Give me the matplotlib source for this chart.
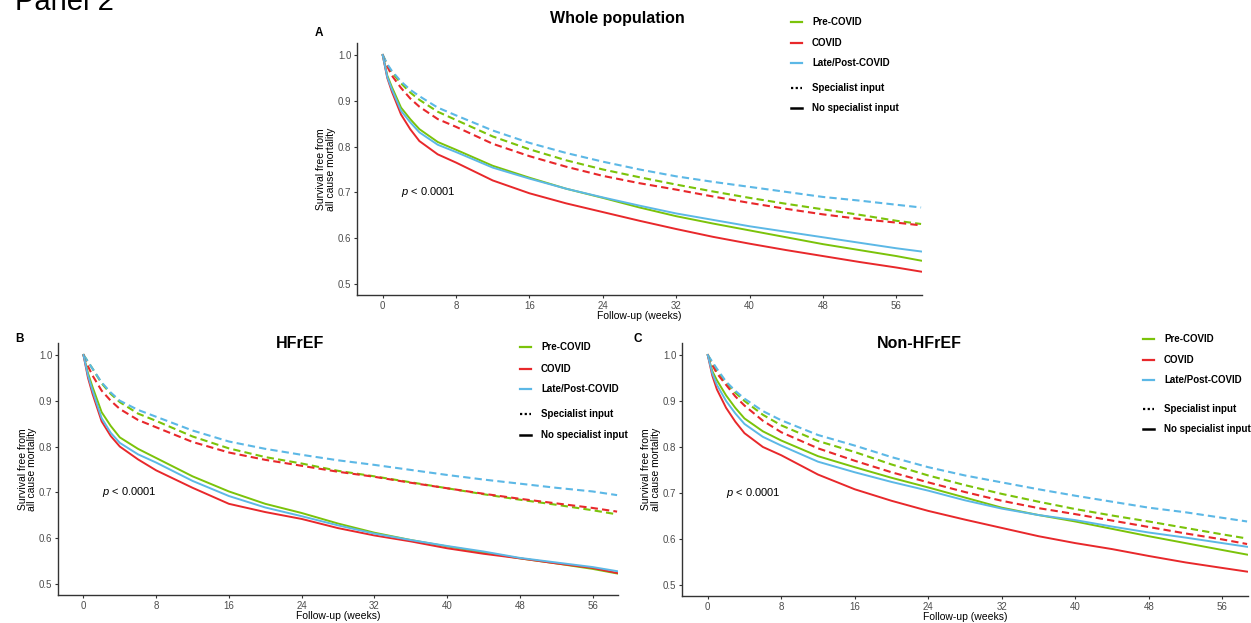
import matplotlib
matplotlib.use('Agg')
import matplotlib.pyplot as plt
from matplotlib.lines import Line2D

plt.rcParams['font.family'] = ['Liberation Sans', 'DejaVu Sans']
plt.rcParams['mathtext.fontset'] = 'custom'
plt.rcParams['mathtext.it'] = 'Liberation Sans:italic'
plt.rcParams['mathtext.rm'] = 'Liberation Sans'

W, H = 1251, 623

# follow-up time points (weeks)
weeks = [0, 0.5, 1, 2, 3, 4, 6, 8, 12, 16, 20, 24, 28, 32, 36, 40, 44, 48, 52, 56, 58.7]

periods = ['Pre-COVID', 'COVID', 'Late/Post-COVID']
colors = ['#7bc30a', '#e8282b', '#5cb8e6']

# panel A: whole population
a_nospec_pre = [1.0, 0.955, 0.93, 0.885, 0.86, 0.838, 0.81, 0.793, 0.758, 0.732, 0.708, 0.688, 0.667, 0.648, 0.632, 0.617, 0.602, 0.587, 0.574, 0.561, 0.551]
a_nospec_covid = [1.0, 0.95, 0.92, 0.87, 0.838, 0.812, 0.783, 0.765, 0.726, 0.698, 0.676, 0.657, 0.638, 0.62, 0.603, 0.588, 0.574, 0.561, 0.548, 0.536, 0.527]
a_nospec_post = [1.0, 0.952, 0.925, 0.878, 0.853, 0.831, 0.804, 0.788, 0.754, 0.73, 0.708, 0.689, 0.671, 0.654, 0.64, 0.626, 0.614, 0.602, 0.59, 0.578, 0.571]
a_spec_pre = [1.0, 0.978, 0.962, 0.938, 0.918, 0.902, 0.876, 0.858, 0.822, 0.794, 0.77, 0.75, 0.733, 0.717, 0.702, 0.688, 0.675, 0.663, 0.651, 0.638, 0.631]
a_spec_covid = [1.0, 0.975, 0.955, 0.928, 0.905, 0.887, 0.86, 0.843, 0.806, 0.779, 0.756, 0.736, 0.72, 0.706, 0.691, 0.677, 0.664, 0.652, 0.642, 0.634, 0.628]
a_spec_post = [1.0, 0.98, 0.965, 0.942, 0.924, 0.91, 0.885, 0.868, 0.835, 0.808, 0.786, 0.767, 0.75, 0.735, 0.723, 0.712, 0.701, 0.69, 0.682, 0.673, 0.667]

# panel B: HFrEF
b_nospec_pre = [1.0, 0.96, 0.93, 0.875, 0.845, 0.82, 0.795, 0.775, 0.735, 0.702, 0.675, 0.655, 0.632, 0.612, 0.596, 0.582, 0.569, 0.556, 0.545, 0.533, 0.523]
b_nospec_covid = [1.0, 0.95, 0.915, 0.855, 0.823, 0.8, 0.772, 0.748, 0.71, 0.675, 0.657, 0.642, 0.622, 0.606, 0.593, 0.578, 0.566, 0.556, 0.545, 0.535, 0.524]
b_nospec_post = [1.0, 0.955, 0.922, 0.862, 0.83, 0.808, 0.783, 0.765, 0.725, 0.692, 0.667, 0.648, 0.628, 0.61, 0.596, 0.583, 0.571, 0.557, 0.547, 0.537, 0.528]
b_spec_pre = [1.0, 0.985, 0.97, 0.938, 0.915, 0.897, 0.872, 0.856, 0.822, 0.796, 0.777, 0.763, 0.747, 0.735, 0.722, 0.709, 0.696, 0.684, 0.673, 0.661, 0.652]
b_spec_covid = [1.0, 0.975, 0.955, 0.922, 0.9, 0.882, 0.858, 0.842, 0.81, 0.787, 0.771, 0.758, 0.745, 0.734, 0.721, 0.709, 0.697, 0.686, 0.676, 0.666, 0.658]
b_spec_post = [1.0, 0.985, 0.97, 0.94, 0.918, 0.9, 0.88, 0.865, 0.835, 0.811, 0.795, 0.782, 0.77, 0.76, 0.749, 0.738, 0.728, 0.719, 0.71, 0.702, 0.694]

# panel C: Non-HFrEF
c_nospec_pre = [1.0, 0.965, 0.945, 0.912, 0.885, 0.862, 0.834, 0.814, 0.78, 0.756, 0.733, 0.712, 0.69, 0.668, 0.652, 0.638, 0.622, 0.606, 0.591, 0.576, 0.566]
c_nospec_covid = [1.0, 0.955, 0.925, 0.885, 0.855, 0.83, 0.8, 0.782, 0.74, 0.708, 0.683, 0.661, 0.642, 0.624, 0.606, 0.591, 0.578, 0.563, 0.549, 0.537, 0.529]
c_nospec_post = [1.0, 0.96, 0.935, 0.9, 0.873, 0.85, 0.822, 0.803, 0.768, 0.745, 0.724, 0.705, 0.684, 0.666, 0.652, 0.641, 0.627, 0.614, 0.603, 0.591, 0.583]
c_spec_pre = [1.0, 0.982, 0.965, 0.94, 0.918, 0.9, 0.87, 0.847, 0.813, 0.789, 0.762, 0.738, 0.717, 0.698, 0.681, 0.665, 0.651, 0.638, 0.624, 0.61, 0.601]
c_spec_covid = [1.0, 0.978, 0.96, 0.935, 0.91, 0.89, 0.857, 0.832, 0.797, 0.77, 0.745, 0.723, 0.702, 0.683, 0.667, 0.654, 0.64, 0.626, 0.612, 0.599, 0.589]
c_spec_post = [1.0, 0.985, 0.97, 0.942, 0.922, 0.905, 0.878, 0.858, 0.826, 0.803, 0.778, 0.756, 0.738, 0.723, 0.708, 0.694, 0.681, 0.668, 0.658, 0.646, 0.638]

xticks = [0, 8, 16, 24, 32, 40, 48, 56]
yticks = [0.5, 0.6, 0.7, 0.8, 0.9, 1.0]


def fig_box(left, top, right, bottom):
    return [left / W, 1 - bottom / H, (right - left) / W, (bottom - top) / H]


def fx(x):
    return x / W


def fy(y):
    return 1 - y / H


def km_panel(ax, nospec, spec):
    for i in range(3):
        ax.plot(weeks, spec[i], color=colors[i], lw=1.5, ls=(0, (3.5, 2)))
    for i in range(3):
        ax.plot(weeks, nospec[i], color=colors[i], lw=1.4)
    ax.set_xlim(-2.8, 58.8)
    ax.set_ylim(0.476, 1.026)
    ax.set_xticks(xticks)
    ax.set_yticks(yticks)
    ax.set_yticklabels(['%.1f' % v for v in yticks])
    for s in ['top', 'right']:
        ax.spines[s].set_visible(False)
    for s in ['left', 'bottom']:
        ax.spines[s].set_color('#333333')
        ax.spines[s].set_linewidth(1.0)
    ax.tick_params(length=2.5, width=0.8, color='#333333', labelsize=7, labelcolor='#4d4d4d', pad=1.5)
    ax.set_xlabel('Follow-up (weeks)', fontsize=7.5, labelpad=0)
    ax.set_ylabel('Survival free from\nall cause mortality', fontsize=7.5, linespacing=0.95)
    ax.yaxis.set_label_coords(-0.037, 0.5)
    ax.text(2, 0.70, r'$p$ < 0.0001', fontsize=8, va='center', ha='left')


def legend_block(fig, x_line, x_text, ys):
    for i in range(3):
        fig.add_artist(Line2D([fx(x_line), fx(x_line + 11)], [fy(ys[i]), fy(ys[i])],
                              color=colors[i], lw=1.6, transform=fig.transFigure))
        fig.text(fx(x_text), fy(ys[i]), periods[i], fontsize=7, fontweight='bold', va='center')
    fig.add_artist(Line2D([fx(x_line), fx(x_line + 11)], [fy(ys[3]), fy(ys[3])],
                          color='black', lw=1.6, ls=(0, (1, 1.1)), transform=fig.transFigure))
    fig.text(fx(x_text), fy(ys[3]), 'Specialist input', fontsize=7, fontweight='bold', va='center')
    fig.add_artist(Line2D([fx(x_line), fx(x_line + 11)], [fy(ys[4]), fy(ys[4])],
                          color='black', lw=1.8, transform=fig.transFigure))
    fig.text(fx(x_text), fy(ys[4]), 'No specialist input', fontsize=7, fontweight='bold', va='center')


fig = plt.figure(figsize=(W / 100, H / 100), dpi=100)

axA = fig.add_axes(fig_box(357, 43, 922, 295))
axB = fig.add_axes(fig_box(58, 343, 618, 595))
axC = fig.add_axes(fig_box(682, 343, 1248, 596))

km_panel(axA, [a_nospec_pre, a_nospec_covid, a_nospec_post], [a_spec_pre, a_spec_covid, a_spec_post])
km_panel(axB, [b_nospec_pre, b_nospec_covid, b_nospec_post], [b_spec_pre, b_spec_covid, b_spec_post])
km_panel(axC, [c_nospec_pre, c_nospec_covid, c_nospec_post], [c_spec_pre, c_spec_covid, c_spec_post])

fig.text(fx(15), fy(10), 'Panel 2', fontsize=21, va='baseline', ha='left')

fig.text(fx(617), fy(19), 'Whole population', fontsize=11.5, fontweight='bold', ha='center', va='center')
fig.text(fx(300), fy(344), 'HFrEF', fontsize=11.5, fontweight='bold', ha='center', va='center')
fig.text(fx(919), fy(344), 'Non-HFrEF', fontsize=11.5, fontweight='bold', ha='center', va='center')

fig.text(fx(319), fy(33), 'A', fontsize=8.5, fontweight='bold', ha='center', va='center')
fig.text(fx(19), fy(339), 'B', fontsize=8.5, fontweight='bold', ha='center', va='center')
fig.text(fx(638), fy(339), 'C', fontsize=8.5, fontweight='bold', ha='center', va='center')

legend_block(fig, 791, 812, [22, 43, 63, 88, 108])
legend_block(fig, 520, 541, [347, 369, 389, 414, 435])
legend_block(fig, 1143, 1164, [339, 360, 380, 409, 429])

fig.savefig('out.png', dpi=100)
